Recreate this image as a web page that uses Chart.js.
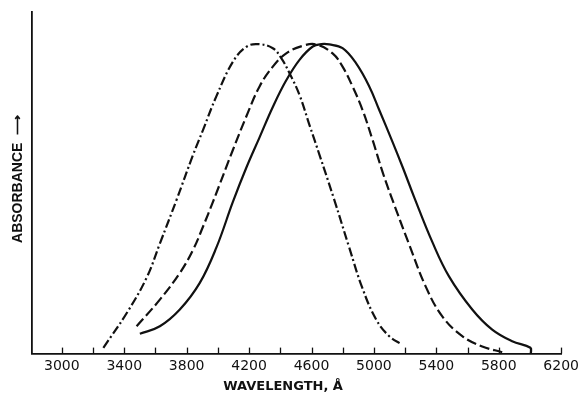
<!DOCTYPE html>
<html>
<head>
<meta charset="utf-8">
<script src="https://cdn.jsdelivr.net/npm/chart.js@4.4.1/dist/chart.umd.min.js"></script>
<style>
  html, body { margin: 0; padding: 0; background: #fff; }
  #wrap { width: 583px; height: 394px; }
</style>
</head>
<body>
<div id="wrap"><canvas id="c" width="583" height="394"></canvas></div>
<script>
// Wavelength (Å) and relative absorbance
const dashDotX = [3266, 3415, 3543, 3628, 3735, 3841, 3905, 3990, 4096, 4182, 4256, 4352, 4406, 4459, 4523, 4587, 4651, 4746, 4842, 4925, 5015, 5098, 5181];
const dashDotY = [1.7, 11.8, 22.2, 32.2, 45.0, 58.2, 65.5, 75.3, 85.4, 89.8, 90.6, 89.4, 86.5, 82.1, 75.7, 66.9, 58.2, 45.0, 31.0, 19.3, 9.9, 5.1, 2.6];

const dashedX = [3479, 3628, 3756, 3841, 3905, 3969, 4096, 4182, 4267, 4352, 4438, 4544, 4631, 4735, 4799, 4863, 4927, 4991, 5055, 5109, 5226, 5332, 5438, 5566, 5694, 5822];
const dashedY = [8.0, 15.8, 23.6, 30.4, 37.2, 44.5, 59.6, 69.4, 78.2, 84.0, 87.9, 90.1, 90.5, 87.9, 84.0, 78.2, 71.3, 62.6, 53.2, 46.2, 31.9, 19.6, 10.9, 5.1, 2.1, 0.4];

const solidX = [3500, 3628, 3756, 3884, 3990, 4096, 4182, 4267, 4352, 4438, 4523, 4608, 4663, 4714, 4799, 4885, 4970, 5034, 5119, 5183, 5257, 5374, 5481, 5630, 5758, 5886, 6003, 6006];
const solidY = [5.8, 8.0, 12.9, 20.7, 31.0, 44.4, 54.4, 63.3, 72.2, 80.0, 86.0, 89.9, 90.6, 90.5, 89.4, 85.0, 78.2, 71.3, 62.0, 54.7, 45.9, 32.7, 22.6, 12.9, 7.0, 3.6, 1.7, 0];

const xTickValues = [3000, 3200, 3400, 3600, 3800, 4000, 4200, 4400, 4600, 4800, 5000, 5200, 5400, 5600, 5800, 6000, 6200];
const xTickLabels = ['3000', '', '3400', '', '3800', '', '4200', '', '4600', '', '5000', '', '5400', '', '5800', '', '6200'];

const xTitle = 'WAVELENGTH, \u00C5';
const yTitle = 'ABSORBANCE \u00a0\u27F6';

function pts(xs, ys) { return xs.map((x, i) => ({ x: x, y: ys[i] })); }

const ink = '#111';

// short tick marks pointing up into the plot, placed by the x scale
const innerTicks = {
  id: 'innerTicks',
  afterDatasetsDraw(chart) {
    const sx = chart.scales.x;
    const ctx = chart.ctx;
    const y0 = sx.top;
    ctx.save();
    ctx.strokeStyle = ink;
    ctx.lineWidth = 1.3;
    sx.ticks.forEach(t => {
      const px = Math.round(sx.getPixelForValue(t.value)) + 0.5;
      ctx.beginPath();
      ctx.moveTo(px, y0);
      ctx.lineTo(px, y0 - 6);
      ctx.stroke();
    });
    ctx.restore();
  }
};

new Chart(document.getElementById('c'), {
  type: 'line',
  data: {
    datasets: [
      { data: pts(dashDotX, dashDotY), borderColor: ink, borderWidth: 2.2, borderDash: [9, 3, 2, 3], pointRadius: 0, tension: 0.4, fill: false },
      { data: pts(dashedX, dashedY), borderColor: ink, borderWidth: 2.2, borderDash: [10, 4], pointRadius: 0, tension: 0.4, fill: false },
      { data: pts(solidX, solidY), borderColor: ink, borderWidth: 2.2, pointRadius: 0, tension: 0.4, fill: false }
    ]
  },
  plugins: [innerTicks],
  options: {
    responsive: false,
    animation: false,
    events: [],
    layout: { padding: { left: 8.4, right: 9, top: 12, bottom: 0 } },
    plugins: { legend: { display: false }, tooltip: { enabled: false } },
    scales: {
      x: {
        type: 'linear',
        min: 2810,
        max: 6200,
        afterBuildTicks: (scale) => { scale.ticks = xTickValues.map(v => ({ value: v })); },
        ticks: {
          autoSkip: false,
          maxRotation: 0,
          padding: 4,
          color: ink,
          font: { family: 'DejaVu Sans', size: 14 },
          callback: (v) => { const i = xTickValues.indexOf(v); return i >= 0 ? xTickLabels[i] : ''; }
        },
        grid: { display: false, drawTicks: false },
        border: { display: true, color: ink, width: 1.8 },
        title: { display: true, text: xTitle + '\u00a0\u00a0\u00a0\u00a0\u00a0\u00a0', color: ink, font: { family: 'DejaVu Sans', size: 13, weight: 'bold' }, padding: { top: 0, bottom: 0 } }
      },
      y: {
        min: 0,
        max: 100,
        ticks: { display: false },
        grid: { display: false, drawTicks: false },
        border: { display: true, color: ink, width: 1.8 },
        title: { display: true, text: '\u00a0\u00a0' + yTitle, color: ink, font: { family: 'Liberation Sans', size: 14, weight: 'bold' }, padding: { top: 1, bottom: 6 } }
      }
    }
  }
});
</script>
</body>
</html>
